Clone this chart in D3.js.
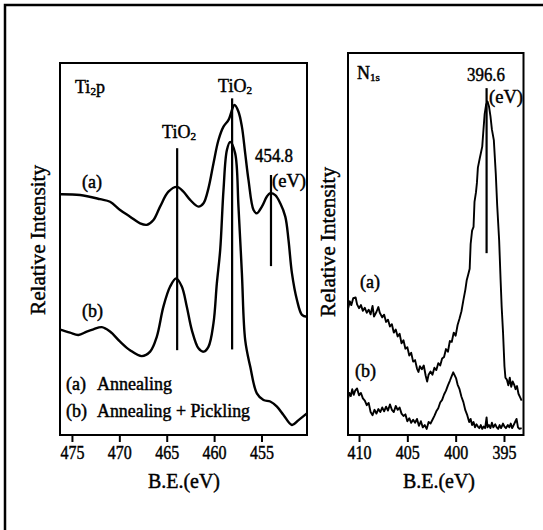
<!DOCTYPE html>
<html><head><meta charset="utf-8">
<script src="https://cdn.jsdelivr.net/npm/d3@7"></script>
<style>
body{margin:0;background:#fff}
svg{display:block;font-family:'Liberation Serif',serif}
svg text{fill:#000;stroke:#000;stroke-width:0.45px}
</style>
</head><body>
<svg id="c" width="543" height="530"></svg>
<script>
// ---------- DATA ----------
// Ti2p panel (binding energy in eV, relative intensity 0-100)
const tiBE_a  = [476.26,474.14,472.03,470.98,469.92,468.87,467.81,467.10,466.40,465.70,464.82,463.93,463.24,462.53,461.65,461.12,460.60,460.07,459.54,459.01,458.48,457.85,457.43,457.07,456.72,456.37,455.84,455.49,454.96,454.43,454.08,453.55,453.02,452.49,452.15,451.79,451.26,450.73,450.21];
const tiInt_a = [64.7,64.5,63.4,62.7,60.5,58.7,56.9,56.5,57.8,61.4,65.4,66.7,65.4,63.2,61.4,62.3,66.3,73.0,79.3,82.9,84.7,88.7,86.9,82.9,75.7,68.5,60.5,59.6,61.4,64.1,65.0,64.5,62.3,58.7,52.4,43.5,36.3,32.3,31.8];
const tiBE_b  = [476.33,475.20,474.32,473.44,472.74,471.85,470.98,469.92,468.87,467.63,466.75,466.05,465.35,464.64,464.01,463.41,462.88,462.35,461.65,461.12,460.60,460.07,459.71,459.36,459.01,458.65,458.30,457.78,457.43,457.07,456.72,456.19,455.49,454.79,454.08,453.37,452.68,451.79,451.09,450.21];
const tiInt_b = [28.4,27.5,26.9,27.8,28.4,29.0,27.8,25.1,22.8,21.2,22.4,26.4,34.5,39.9,42.1,39.9,34.5,28.2,23.3,22.4,23.7,30.0,40.8,49.7,65.9,76.6,78.8,75.7,61.4,43.5,25.5,18.4,11.2,9.4,9.0,7.6,5.4,2.7,4.0,5.8];
const tiTicks = [475,470,465,460,455];
const tiMarkBE  = [463.9,458.1,454.0];
const tiMarkTop = [77.1,90.5,69.9];
const tiMarkBot = [22.8,23.0,45.4];

// N1s panel
const nBE_a  = [411.14,410.95,410.8,410.6,410.35,410.2,410.0,409.8,409.6,409.4,409.2,409.0,408.8,408.6,408.45,408.2,408.0,407.85,407.6,407.4,407.2,407.0,406.8,406.6,406.4,406.2,406.0,405.8,405.6,405.4,405.2,405.0,404.8,404.6,404.4,404.2,404.0,403.85,403.7,403.5,403.3,403.1,402.95,402.8,402.6,402.4,402.2,402.0,401.8,401.6,401.4,401.2,401.0,400.8,400.6,400.4,400.2,400.0,399.8,399.6,399.4,399.2,399.0,398.85,398.7,398.55,398.45,398.3,398.15,398.05,397.9,397.8,397.7,397.5,397.4,397.25,397.15,397.0,396.85,396.7,396.55,396.4,396.25,396.05,395.85,395.7,395.5,395.35,395.24,395.1,394.95,394.85,394.7,394.55,394.4,394.25,394.1,393.95,393.8,393.65,393.5,393.35,393.17];
const nInt_a = [33.0,35.0,34.0,35.8,36.0,34.2,33.2,34.0,32.5,33.3,32.0,32.8,31.6,33.8,31.0,32.2,33.5,32.0,30.8,31.5,29.6,30.2,28.4,29.0,26.8,27.6,25.8,26.5,24.0,24.8,22.6,23.0,20.8,21.5,19.2,19.6,17.4,16.5,18.0,17.2,18.2,15.5,14.0,15.8,16.6,15.8,17.6,17.0,18.8,18.2,20.0,20.4,22.5,21.8,24.6,24.4,26.8,26.0,28.8,30.5,32.4,35.3,38.0,40.6,42.0,43.5,50.0,53.5,54.5,61.0,63.5,66.0,70.0,72.5,73.7,75.5,79.0,84.0,86.5,87.3,86.0,83.5,80.0,77.2,68.5,60.0,51.0,40.6,33.6,27.0,18.0,15.0,14.5,13.0,15.0,12.6,14.0,13.2,12.0,12.8,10.8,10.0,9.0];
const nBE_b  = [411.14,411.0,410.85,410.7,410.55,410.4,410.2,410.0,409.8,409.6,409.4,409.2,409.0,408.8,408.6,408.4,408.2,408.0,407.8,407.6,407.4,407.2,407.0,406.8,406.6,406.4,406.2,406.0,405.8,405.6,405.4,405.2,405.0,404.8,404.6,404.4,404.2,404.0,403.8,403.6,403.4,403.2,403.0,402.8,402.6,402.4,402.2,402.0,401.8,401.6,401.4,401.2,401.0,400.8,400.6,400.4,400.25,400.1,399.95,399.8,399.6,399.4,399.2,399.0,398.8,398.6,398.45,398.3,398.15,398.0,397.85,397.7,397.55,397.4,397.25,397.1,396.95,396.8,396.7,396.55,396.4,396.25,396.1,395.9,395.75,395.6,395.45,395.3,395.1,394.95,394.8,394.6,394.45,394.3,394.15,394.0,393.85,393.7,393.55,393.4,393.17];
const nInt_b = [9.5,11.0,10.2,12.0,10.5,11.6,12.2,10.4,11.0,9.6,9.0,7.8,8.4,6.0,5.2,6.6,5.6,6.8,6.0,7.2,6.2,7.4,6.4,8.0,6.6,6.0,7.6,6.6,7.2,5.6,5.0,5.4,3.6,4.4,3.2,4.0,3.2,4.2,2.4,3.6,2.0,2.6,1.6,3.4,3.0,4.0,5.0,6.2,7.0,8.5,9.2,10.6,11.6,13.0,14.2,15.5,16.4,15.6,14.8,13.2,12.0,10.0,8.6,6.5,5.2,3.4,4.2,2.6,3.4,2.0,2.8,2.2,1.8,2.6,1.6,2.2,1.8,4.6,2.0,2.6,1.8,3.2,2.0,2.8,2.0,1.6,2.6,1.8,3.0,2.2,1.8,2.6,2.0,3.0,1.8,2.6,3.4,4.2,2.0,1.6,1.8];
const nTicks = [410,405,400,395];
const nMarkBE  = [396.8];
const nMarkTop = [90.8];
const nMarkBot = [47.6];

// ---------- DRAW ----------
const FONT = "'Liberation Serif', serif";
const svg = d3.select('#c');
svg.append('path').attr('d','M5,530V5H543')
  .attr('fill','none').attr('stroke','#000').attr('stroke-width',2.5);

function panel(o){
  const x = d3.scaleLinear().domain(o.xDom).range([o.x0,o.x1]);
  const y = d3.scaleLinear().domain([0,100]).range([o.y1,o.y0]);
  const g = svg.append('g');
  g.append('rect').attr('x',o.x0).attr('y',o.y0).attr('width',o.x1-o.x0).attr('height',o.y1-o.y0)
    .attr('fill','none').attr('stroke','#000').attr('stroke-width',2);
  const ax = g.append('g').attr('transform',`translate(0,${o.y1})`)
    .call(d3.axisBottom(x).tickValues(o.ticks).tickSize(7).tickPadding(4).tickFormat(d3.format('d')));
  ax.attr('font-family',null).style('font-family',FONT);
  ax.select('.domain').remove();
  ax.selectAll('line').attr('stroke','#000').attr('stroke-width',2);
  ax.selectAll('text').attr('font-size',19).attr('fill','#000').style('font-family',FONT)
    .attr('textLength',24).attr('lengthAdjust','spacingAndGlyphs');
  const line = d3.line().x(d=>x(d[0])).y(d=>y(d[1])).curve(o.curve);
  o.series.forEach(s=>{
    g.append('path').datum(d3.zip(s[0],s[1])).attr('d',line)
      .attr('fill','none').attr('stroke','#000').attr('stroke-width',o.sw).attr('stroke-linejoin','round');
  });
  o.marks[0].forEach((b,i)=>{
    g.append('line').attr('x1',x(b)).attr('x2',x(b)).attr('y1',y(o.marks[1][i])).attr('y2',y(o.marks[2][i]))
      .attr('stroke','#000').attr('stroke-width',2.2);
  });
  return {x,y,g};
}

panel({x0:60,x1:307,y0:63,y1:435,xDom:[476.26,450.2],ticks:tiTicks,sw:2.4,
  series:[[tiBE_a,tiInt_a],[tiBE_b,tiInt_b]],curve:d3.curveCatmullRom.alpha(0.5),
  marks:[tiMarkBE,tiMarkTop,tiMarkBot]});
panel({x0:348,x1:523.5,y0:53,y1:435,xDom:[411.14,392.98],ticks:nTicks,sw:1.9,
  series:[[nBE_a,nInt_a],[nBE_b,nInt_b]],curve:d3.curveLinear,
  marks:[nMarkBE,nMarkTop,nMarkBot]});

function txt(x,y,s,size,opt={}){
  const t = svg.append('text').attr('x',x).attr('y',y).attr('font-size',size).style('font-family',FONT).text(s);
  if(opt.anchor) t.attr('text-anchor',opt.anchor);
  if(opt.len) t.attr('textLength',opt.len).attr('lengthAdjust','spacingAndGlyphs');
  if(opt.rot) t.attr('transform',`rotate(-90,${x},${y})`);
  return t;
}
function sub(x,y,main,s,size,opt={}){
  const t = svg.append('text').attr('x',x).attr('y',y).attr('font-size',size).style('font-family',FONT);
  if(opt.anchor) t.attr('text-anchor',opt.anchor);
  t.append('tspan').text(main);
  t.append('tspan').attr('font-size',size*0.62).attr('dy',size*0.12).text(s);
  if(opt.after) t.append('tspan').attr('dy',-size*0.12).text(opt.after);
  return t;
}

// Left panel texts
sub(75,93,'Ti','2',18,{after:'p'});
sub(179,138,'TiO','2',18,{anchor:'middle'});
sub(235,92,'TiO','2',18,{anchor:'middle'});
txt(274,162,'454.8',18,{anchor:'middle',len:38});
txt(272,187,'(eV)',18,{len:34});
txt(82,188,'(a)',18);
txt(82,317,'(b)',18);
txt(66,390,'(a)',18);
txt(97,390,'Annealing',18,{len:75});
txt(66,417,'(b)',18);
txt(97,417,'Annealing + Pickling',18,{len:153});
txt(45,240,'Relative  Intensity',21,{anchor:'middle',rot:true,len:150});
txt(184,488,'B.E.(eV)',21,{anchor:'middle',len:72});

// Right panel texts
sub(357,79,'N','1s',18);
txt(486,81,'396.6',18,{anchor:'middle',len:38});
txt(489,103,'(eV)',18,{len:34});
txt(360,288,'(a)',18);
txt(355,377,'(b)',18);
txt(335,242,'Relative  Intensity',21,{anchor:'middle',rot:true,len:150});
txt(439,488,'B.E.(eV)',21,{anchor:'middle',len:72});
</script>
</body></html>
